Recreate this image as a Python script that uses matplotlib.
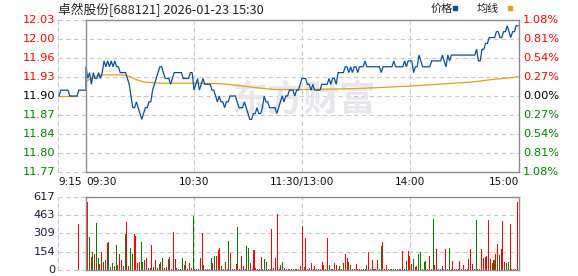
import matplotlib
matplotlib.use('Agg')
import matplotlib.pyplot as plt
from matplotlib.patches import Rectangle
import numpy as np

# ---- data ----
title = "卓然股份[688121] 2026-01-23 15:30"
prev_close = 11.90

# pre-market 9:15-9:30, minutes -15..0
pre_minutes = list(range(-15, 1))
pre_price = [11.90, 11.91, 11.91, 11.91, 11.91, 11.91, 11.90, 11.90,
             11.90, 11.90, 11.90, 11.91, 11.91, 11.91, 11.91, 11.91]
pre_avg_minutes = [-15, -5]
pre_avg = [11.90, 11.90]
pre_vol_minute = -4.3
pre_vol = 389

# session minutes 0..240 (09:30-11:30, 13:00-15:00)
price = [
    11.95, 11.93, 11.94, 11.92, 11.94, 11.93, 11.93, 11.94, 11.93, 11.94,
    11.96, 11.95, 11.96, 11.95, 11.96, 11.95, 11.96, 11.95, 11.95, 11.94,
    11.94, 11.94, 11.94, 11.93, 11.92, 11.90, 11.88, 11.88, 11.89, 11.88,
    11.87, 11.86, 11.87, 11.88, 11.88, 11.89, 11.89, 11.91, 11.92, 11.93,
    11.94, 11.95, 11.95, 11.94, 11.93, 11.93, 11.93, 11.92, 11.93, 11.94,
    11.94, 11.94, 11.94, 11.94, 11.93, 11.93, 11.93, 11.93, 11.94, 11.94,
    11.91, 11.92, 11.93, 11.91, 11.92, 11.93, 11.92, 11.92, 11.92, 11.92,
    11.91, 11.91, 11.90, 11.89, 11.90, 11.89, 11.89, 11.88, 11.89, 11.89,
    11.90, 11.90, 11.90, 11.90, 11.89, 11.88, 11.88, 11.88, 11.89, 11.88,
    11.87, 11.86, 11.86, 11.87, 11.87, 11.88, 11.87, 11.87, 11.88, 11.90,
    11.89, 11.89, 11.88, 11.88, 11.88, 11.88, 11.87, 11.88, 11.89, 11.90,
    11.89, 11.90, 11.90, 11.91, 11.91, 11.91, 11.90, 11.91, 11.91, 11.92,
    11.93, 11.93, 11.93, 11.92, 11.92, 11.91, 11.92, 11.91, 11.91, 11.91,
    11.91, 11.92, 11.92, 11.92, 11.92, 11.93, 11.92, 11.93, 11.93, 11.92,
    11.94, 11.94, 11.94, 11.94, 11.95, 11.95, 11.94, 11.95, 11.94, 11.95,
    11.95, 11.94, 11.95, 11.95, 11.95, 11.96, 11.95, 11.95, 11.95, 11.95,
    11.95, 11.95, 11.95, 11.95, 11.94, 11.95, 11.95, 11.95, 11.95, 11.95,
    11.95, 11.96, 11.95, 11.95, 11.95, 11.95, 11.95, 11.96, 11.95, 11.96,
    11.96, 11.96, 11.94, 11.95, 11.95, 11.97, 11.96, 11.95, 11.95, 11.95,
    11.95, 11.95, 11.96, 11.96, 11.96, 11.96, 11.96, 11.96, 11.97, 11.96,
    11.95, 11.97, 11.96, 11.97, 11.97, 11.97, 11.97, 11.97, 11.97, 11.97,
    11.97, 11.97, 11.97, 11.97, 11.97, 11.97, 11.97, 11.98, 11.96, 11.96,
    11.98, 11.98, 11.99, 11.99, 12.00, 12.00, 12.00, 12.00, 12.01, 12.01,
    12.00, 12.00, 12.01, 12.01, 12.02, 12.01, 12.00, 12.01, 12.01, 12.02,
    12.02]

avg_minutes = [0, 3, 6, 9, 20, 24, 28, 32, 40, 60, 75, 85, 95, 105, 121,
               140, 160, 180, 200, 215, 225, 235, 240]
avg_price = [11.925, 11.930, 11.934, 11.936, 11.936, 11.934, 11.928, 11.924,
             11.922, 11.922, 11.921, 11.918, 11.914, 11.911, 11.911, 11.912,
             11.914, 11.917, 11.921, 11.924, 11.928, 11.931, 11.933]

volume = [
    572, 276, 107, 155, 135, 394,  99,  51, 152,  68,
     82, 228, 237,  23,  56,  31, 211,  39, 135,  85,
     34, 304, 406,  34, 186, 135, 304, 287,  59,  68,
    237,  68,  82, 101,  17,  14, 211,  23,  85,  17,
     54,  68, 101,  17,  23,  96, 110,  11, 318,  93,
     17,  11,  11, 101,  39,  79,  11,  62,  17, 456,
     11,  11,  11, 101, 315,  45,   6,   6,   6, 101,
     62, 118, 118, 172, 189,  34,  11,  68,   6, 245,
    147,  11,   6,  51, 363,  11, 118,  34,  11, 203,
    186,  62,  11, 172,  17,  11,  11, 110,  11,  93,
     70,  11,  11, 346,  17, 104, 476,   6,  45,  70,
     17,   6,   6,   6,   6,   6,   6,   6,   6,  34,
    374,  23, 270,   6,  17,  59,   6,  34,   6,   6,
      6,  68,  42,   6, 270,  42,   6,   6,  59,  42,
      6,  34,   6,  59, 138, 101,  68,  42,   6,   6,
     51,   6,   6,   6,   6,   6,  42, 152,   6,  85,
      6,   6,  85,   6, 203, 237,   6,  42,   6,   6,
      6,   6,   6,   6,   6,   6, 160,   6,  76, 160,
    118,  51,  93,  25,  34, 138, 152,  11,  68,  76,
     11, 118,   6, 431,  42, 177,   6,   6,  34,  11,
    177,   6, 186,   6,  76,   6,  11,   6,  76,  11,
     42,   6,   6,  93, 177,  51,   6, 422,   6,   6,
    177, 101, 110, 118, 422,  93,  59,  85, 138, 220,
    127, 177, 414,  68,  59,  68, 389,   6,   6,   6,
    575]
# r = up bar, g = down bar
vol_dir = ("rgrgrggrrr" "grgggrggrr" "rgrrggrrrr" "ggrrgrrgrr" "grgrrgrrrr"
           "grrggrrrrg" "rrrrrgrrrg" "rgrrrgrrrg" "rrrrgrrrrg" "grrrrrrrrg"
           "grrrrrrrrg" "rrrrgrgrrr" "rrrrrrrrrg" "rrrrrgrrrr" "rgrgrrrgrr"
           "rrrrrrgrrr" "rrrrgrrrrr" "ggrrrrrrgr" "rrgrrggrgg" "rrrgrrrrgr"
           "rrgrrrrrrr" "rrrrrrrgrr" "rrrrrrrgrr" "grrrggrrrr" "r")

price_ticks = [11.77, 11.8025, 11.835, 11.8675, 11.90, 11.9325, 11.965, 11.9975, 12.03]
price_labels = ["11.77", "11.80", "11.84", "11.87", "11.90", "11.93", "11.96", "12.00", "12.03"]
pct_labels = ["1.08%", "0.81%", "0.54%", "0.27%", "0.00%", "0.27%", "0.54%", "0.81%", "1.08%"]
vol_ticks = [0, 154, 309, 463, 617]
vol_labels = ["0", "154", "309", "463", "617"]
time_pos = [-15.5, 0, 60, 120, 180, 240.5]
time_labels = ["9:15", "09:30", "10:30", "11:30/13:00", "14:00", "15:00"]

# ---- style ----
RED, GREEN, BLACK = '#ff0000', '#008000', '#000000'
LINE_BLUE, LINE_GOLD = '#0b4f9c', '#e0a21c'
CJK = ['Noto Sans CJK SC', 'DejaVu Sans']

W, H = 578, 276
fig = plt.figure(figsize=(W / 100, H / 100), dpi=100, facecolor='white')


def px_box(x0, y0, x1, y1):
    return [x0 / W, 1 - y1 / H, (x1 - x0) / W, (y1 - y0) / H]


X_LO, X_HI = -15.5, 240.5
PX_PER_MIN = 1.8
left_px = 86 + X_LO * PX_PER_MIN
right_px = 86 + X_HI * PX_PER_MIN
ax = fig.add_axes(px_box(left_px, 20, right_px, 172))
axv = fig.add_axes(px_box(left_px, 197, right_px, 270))

GRID = dict(color='#c8c8c8', lw=0.8, ls=(0, (4, 3)), zorder=0, clip_on=False)
BORDER = dict(color='#8c8c8c', lw=1.0, zorder=6, clip_on=False)
x0_frac = (0 - X_LO) / (X_HI - X_LO)
ax_w_px = right_px - left_px

for a, ticks in ((ax, price_ticks), (axv, vol_ticks)):
    a.set_xlim(X_LO, X_HI)
    a.set_ylim(ticks[0], ticks[-1])
    for s in a.spines.values():
        s.set_visible(False)
    a.set_xticks([])
    a.set_yticks([])
    for t in ticks:
        a.axhline(t, **GRID)
    for v in (X_LO, 60, 120, 180):
        a.axvline(v, **GRID)
    a.axhline(ticks[0], xmin=x0_frac, xmax=1, **BORDER)
    a.axhline(ticks[-1], xmin=x0_frac, xmax=1, **BORDER)
    a.axvline(0, **BORDER)
    a.axvline(X_HI, **BORDER)

# watermark
ax.text(121, 11.893, "东方财富", family=CJK, fontsize=26, fontweight='bold',
        color='#e6e6eb', ha='center', va='center', zorder=1)

# price + average
ax.plot(pre_minutes + list(range(len(price))), pre_price + price,
        color=LINE_BLUE, lw=0.9, zorder=4, solid_joinstyle='miter')
ax.plot(pre_avg_minutes, pre_avg, color=LINE_GOLD, lw=0.9, zorder=3)
ax.plot(avg_minutes, avg_price, color=LINE_GOLD, lw=0.9, zorder=3)

# left / right labels
for t, lab, pct in zip(price_ticks, price_labels, pct_labels):
    c = RED if t > prev_close + 1e-6 else (GREEN if t < prev_close - 1e-6 else BLACK)
    ax.text(-3 / ax_w_px, t, lab, transform=ax.get_yaxis_transform(),
            ha='right', va='center', fontsize=8.2, color=c)
    ax.text(1 + 4 / ax_w_px, t, pct, transform=ax.get_yaxis_transform(),
            ha='left', va='center', fontsize=8.2, color=c)

for pos, lab in zip(time_pos, time_labels):
    ha = 'left' if pos <= 0 else ('right' if pos >= 240 else 'center')
    ax.text(pos, -10 / 152, lab, transform=ax.get_xaxis_transform(),
            ha=ha, va='center', fontsize=7.6, color='#111111')

# volume bars (bar centres sit just right of each minute mark)
colors = [RED if d == 'r' else GREEN for d in vol_dir]
bar_x = np.linspace(0.8, 239.6, len(volume))
axv.bar(bar_x, volume, width=0.56, color=colors, lw=0, zorder=3,
        antialiased=False)
axv.bar([pre_vol_minute], [pre_vol], width=0.56, color=RED, lw=0, zorder=3,
        antialiased=False)
for t, lab in zip(vol_ticks, vol_labels):
    axv.text(-3 / ax_w_px, t, lab, transform=axv.get_yaxis_transform(),
             ha='right', va='center', fontsize=8.2, color='#1a1a3a')

# title + legend
fig.text(58 / W, 1 - 10 / H, title, family=CJK, fontsize=9.2,
         color='#222222', ha='left', va='center')
fig.text(431 / W, 1 - 9 / H, "价格", family=CJK, fontsize=8,
         color='#222222', ha='left', va='center')
fig.text(477 / W, 1 - 9 / H, "均线", family=CJK, fontsize=8,
         color='#222222', ha='left', va='center')
fig.patches.append(Rectangle((453 / W, 1 - 9.5 / H), 4 / W, 3 / H,
                             transform=fig.transFigure, color=LINE_BLUE))
fig.patches.append(Rectangle((508 / W, 1 - 9.5 / H), 4 / W, 3 / H,
                             transform=fig.transFigure, color=LINE_GOLD))

fig.savefig('out.png', dpi=100, facecolor='white')
